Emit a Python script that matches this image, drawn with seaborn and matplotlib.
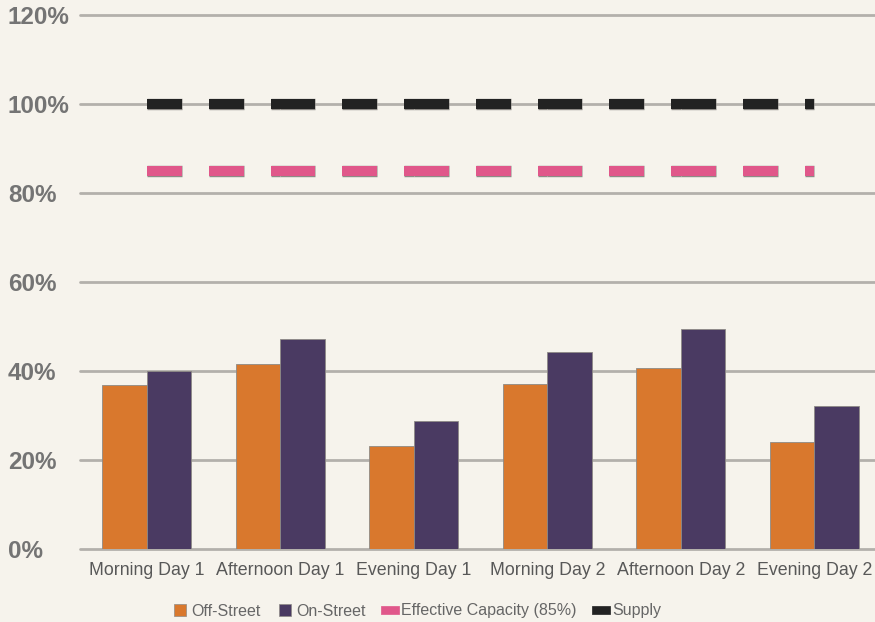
import matplotlib
matplotlib.use("Agg")
import matplotlib.pyplot as plt
import matplotlib.patheffects as pe
from matplotlib.lines import Line2D
import seaborn as sns
import pandas as pd

categories = ["Morning Day 1", "Afternoon Day 1", "Evening Day 1",
              "Morning Day 2", "Afternoon Day 2", "Evening Day 2"]
off_street = [36.9, 41.5, 23.2, 37.1, 40.6, 24.1]
on_street = [39.9, 47.2, 28.8, 44.3, 49.4, 32.2]
effective_capacity = [85, 85, 85, 85, 85, 85]
supply = [100, 100, 100, 100, 100, 100]
y_ticks = [0, 20, 40, 60, 80, 100, 120]

bg = "#F6F3EC"
c_off = "#D9782D"
c_on = "#4A3A62"
c_eff = "#E0578A"
c_sup = "#222222"
grid_c = "#B3B0AB"

sns.set_theme(style="white")
plt.rcParams["font.family"] = ["Liberation Sans", "DejaVu Sans"]

df = pd.DataFrame({
    "Period": categories * 2,
    "Occupancy": off_street + on_street,
    "Type": ["Off-Street"] * len(categories) + ["On-Street"] * len(categories),
})

fig = plt.figure(figsize=(8.75, 6.22), dpi=100, facecolor=bg)
ax = fig.add_axes([80 / 875, 73 / 622, 801 / 875, 534 / 622])
ax.set_facecolor(bg)

ax.set_axisbelow(True)
for t in y_ticks:
    ax.axhline(t, color=grid_c, lw=2.0, zorder=0, clip_on=False)

sns.barplot(data=df, x="Period", y="Occupancy", hue="Type", order=categories,
            palette={"Off-Street": c_off, "On-Street": c_on}, width=0.667,
            edgecolor="#8E8A86", linewidth=0.6, saturation=1, legend=False,
            ax=ax, zorder=2)

# Dashed reference lines, one segment per category step
outline = [pe.Stroke(linewidth=8.2, foreground="#8E8A86"), pe.Normal()]
for vals, col in [(effective_capacity, c_eff), (supply, c_sup)]:
    for i in range(len(categories) - 1):
        ax.plot([i, i + 1], [vals[i], vals[i + 1]], color=col, lw=7.2,
                dashes=(3.5, 2.7), solid_capstyle="butt", dash_capstyle="butt",
                path_effects=outline, zorder=3)

ax.set_ylim(0, 120)
ax.set_xlim(-0.5, len(categories) - 0.5)
ax.set_yticks(y_ticks)
ax.set_yticklabels([f"{t}%" for t in y_ticks])
ax.set_xlabel("")
ax.set_ylabel("")
for s in ax.spines.values():
    s.set_visible(False)
ax.tick_params(axis="y", length=0, pad=52, labelsize=17.5, labelcolor="#747474")
ax.tick_params(axis="x", length=0, pad=9.5, labelsize=12.8, labelcolor="#585858")
for lbl in ax.get_yticklabels():
    lbl.set_fontweight("bold")
    lbl.set_horizontalalignment("left")

rect = [(-1, -0.42), (1, -0.42), (1, 0.42), (-1, 0.42), (-1, -0.42)]
handles = [
    Line2D([], [], ls="none", marker="s", markersize=9, markerfacecolor=c_off,
           markeredgecolor="#8E8A86", markeredgewidth=0.5),
    Line2D([], [], ls="none", marker="s", markersize=9, markerfacecolor=c_on,
           markeredgecolor="#8E8A86", markeredgewidth=0.5),
    Line2D([], [], ls="none", marker=rect, markersize=13, markerfacecolor=c_eff,
           markeredgecolor=c_eff, markeredgewidth=0.5),
    Line2D([], [], ls="none", marker=rect, markersize=13, markerfacecolor=c_sup,
           markeredgecolor=c_sup, markeredgewidth=0.5),
]
labels = ["Off-Street", "On-Street", "Effective Capacity (85%)", "Supply"]
fig.legend(handles, labels, loc="center", bbox_to_anchor=(416 / 875, 1 - 611 / 622),
           ncol=4, frameon=False, fontsize=11.5, labelcolor="#666666",
           handlelength=1.22, handletextpad=0.1, columnspacing=0.9,
           borderaxespad=0, borderpad=0)

fig.savefig("out.png", dpi=100, facecolor=bg)
